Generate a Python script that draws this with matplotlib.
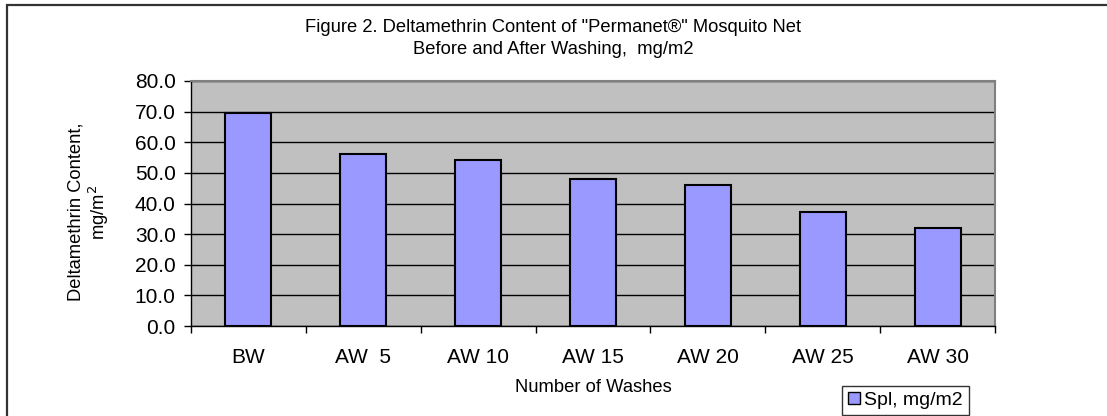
import matplotlib
matplotlib.use("Agg")
import matplotlib.pyplot as plt
import matplotlib.patches as mpatches
import numpy as np

categories = ["BW", "AW  5", "AW 10", "AW 15", "AW 20", "AW 25", "AW 30"]
values = [69.6, 56.1, 54.3, 47.9, 46.0, 37.2, 32.1]
yticks = [0, 10, 20, 30, 40, 50, 60, 70, 80]
series_name = "Spl, mg/m2"

plt.rcParams['font.family'] = ['Liberation Sans', 'DejaVu Sans']

W, H = 1107, 416
fig = plt.figure(figsize=(W / 100, H / 100), dpi=100)
fig.patch.set_facecolor("white")

L, R, T, B = 191, 995, 81, 326
ax = fig.add_axes([L / W, 1 - B / H, (R - L) / W, (B - T) / H])
ax.set_facecolor("#C0C0C0")

x = np.arange(len(categories))
bars = ax.bar(x, values, width=0.4, color="#9999FF", edgecolor="black",
              linewidth=1.5, zorder=3, label=series_name)

ax.set_xlim(-0.5, len(categories) - 0.5)
ax.set_ylim(0, 80)
ax.set_yticks(yticks)
ax.set_yticklabels([f"{v:.1f}" for v in yticks])
ax.yaxis.grid(True, color="black", linewidth=1.0, zorder=1)
ax.set_axisbelow(True)

ax.set_xticks(x)
ax.set_xticklabels(categories)
ax.set_xticks(np.arange(len(categories) + 1) - 0.5, minor=True)
ax.tick_params(axis="x", which="major", length=0, pad=16, labelsize=15)
ax.tick_params(axis="x", which="minor", length=5, width=1, direction="out", color="black")
ax.tick_params(axis="y", which="major", length=5, width=1, direction="out", pad=6, labelsize=15)

for side in ["top", "right"]:
    ax.spines[side].set_color("#808080")
    ax.spines[side].set_linewidth(1.5)
for side in ["left", "bottom"]:
    ax.spines[side].set_color("black")
    ax.spines[side].set_linewidth(1.0)

# Title
fig.text(553 / W, 1 - 27 / H, "Figure 2. Deltamethrin Content of \"Permanet®\" Mosquito Net",
         ha="center", va="center", fontsize=13.2)
fig.text(553 / W, 1 - 50 / H, "Before and After Washing,  mg/m2",
         ha="center", va="center", fontsize=13.2)

# Axis labels
fig.text(89 / W, 1 - 212 / H, "Deltamethrin Content,\nmg/m$^2$", rotation=90,
         ha="center", va="center", multialignment="center", fontsize=13.2,
         linespacing=1.15)
fig.text(593 / W, 1 - 387 / H, "Number of Washes", ha="center", va="center", fontsize=13.2)

# Legend
leg = fig.legend(handles=[mpatches.Patch(facecolor="#9999FF", edgecolor="black", linewidth=1)],
                 labels=[series_name], loc="upper left",
                 bbox_to_anchor=(842 / W, 1 - 386 / H), fontsize=14,
                 frameon=True, fancybox=False, shadow=False,
                 handlelength=0.6, handleheight=0.6, handletextpad=0.25,
                 borderpad=0.3, borderaxespad=0)
leg.get_frame().set_edgecolor("black")
leg.get_frame().set_linewidth(1.0)

# Outer frame (top & left visible)
frame = mpatches.Rectangle((6.5 / W, -0.1), 1.2, 1 - 5 / H + 0.1,
                           transform=fig.transFigure, fill=False,
                           edgecolor="#333333", linewidth=1.6, clip_on=False)
fig.add_artist(frame)

fig.savefig("out.png", dpi=100)
